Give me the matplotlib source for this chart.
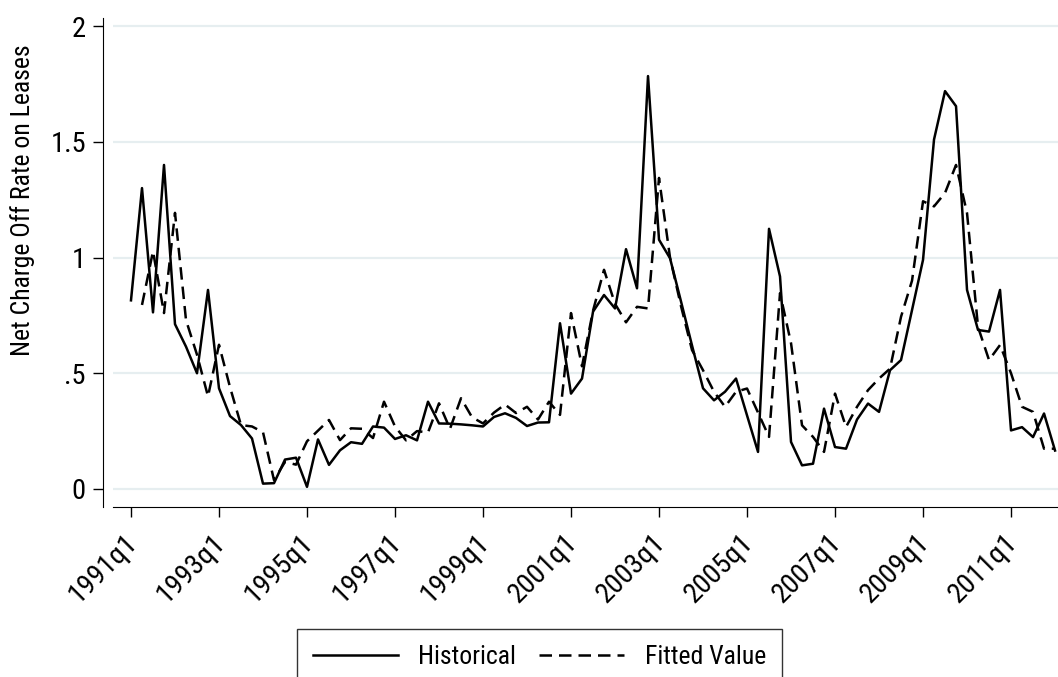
import numpy as np
import matplotlib
matplotlib.use("Agg")
import matplotlib.pyplot as plt
import matplotlib.transforms as mtransforms

# Stata draws in Arial Narrow; Roboto Condensed is the closest installed face
plt.rcParams['font.family'] = ['Roboto Condensed', 'Liberation Sans', 'DejaVu Sans']

# quarterly, 1991q1 .. 2012q1
quarters = np.arange(85)
tick_pos = np.arange(0, 81, 8)
tick_labels = ['1991q1', '1993q1', '1995q1', '1997q1', '1999q1', '2001q1',
               '2003q1', '2005q1', '2007q1', '2009q1', '2011q1']

historical = [0.815, 1.30, 0.763, 1.40, 0.712, 0.615, 0.50, 0.86, 0.435, 0.315,
              0.276, 0.218, 0.023, 0.025, 0.127, 0.135, 0.009, 0.214, 0.104, 0.167,
              0.202, 0.195, 0.27, 0.265, 0.216, 0.232, 0.21, 0.377, 0.283, 0.282,
              0.279, 0.275, 0.27, 0.311, 0.327, 0.307, 0.272, 0.287, 0.288, 0.716,
              0.412, 0.477, 0.766, 0.838, 0.78, 1.036, 0.867, 1.784, 1.077, 0.997,
              0.81, 0.62, 0.435, 0.383, 0.42, 0.477, 0.318, 0.16, 1.124, 0.918,
              0.203, 0.102, 0.109, 0.347, 0.181, 0.174, 0.30, 0.369, 0.333, 0.513,
              0.557, 0.773, 0.99, 1.51, 1.719, 1.654, 0.86, 0.687, 0.68, 0.86,
              0.253, 0.267, 0.224, 0.326, 0.166]

fitted = [np.nan, 0.795, 1.027, 0.76, 1.193, 0.73, 0.58, 0.40, 0.623, 0.44,
          0.276, 0.27, 0.245, 0.038, 0.117, 0.105, 0.206, 0.252, 0.298, 0.211,
          0.262, 0.26, 0.22, 0.377, 0.27, 0.21, 0.25, 0.244, 0.37, 0.26,
          0.392, 0.31, 0.283, 0.33, 0.365, 0.328, 0.355, 0.30, 0.377, 0.32,
          0.76, 0.53, 0.77, 0.947, 0.80, 0.72, 0.787, 0.78, 1.344, 1.0,
          0.79, 0.60, 0.513, 0.42, 0.355, 0.42, 0.434, 0.33, 0.225, 0.846,
          0.63, 0.275, 0.225, 0.16, 0.412, 0.268, 0.355, 0.427, 0.477, 0.52,
          0.744, 0.90, 1.243, 1.221, 1.279, 1.40, 1.192, 0.70, 0.557, 0.622,
          0.50, 0.355, 0.333, 0.174, 0.174]

W, H = 1058, 677
fig = plt.figure(figsize=(W / 100, H / 100), dpi=100)
ax = fig.add_axes([113 / W, (H - 507) / H, (W - 113) / W, (507 - 18) / H])

ax.plot(quarters, historical, color='black', lw=1.8, label='Historical')
ax.plot(quarters, fitted, color='black', lw=1.8, dashes=(5, 2.8), label='Fitted Value')

ax.set_xlim(-1.636, 84.27)
ax.set_ylim(-0.078, 2.035)

ax.set_yticks([0, 0.5, 1, 1.5, 2])
ax.set_yticklabels(['0', '.5', '1', '1.5', '2'])
ax.set_xticks(tick_pos)
ax.set_xticklabels(tick_labels, rotation=45, ha='right', va='top', rotation_mode='anchor')

ax.tick_params(axis='both', labelsize=20.5, length=7.5, width=1, color='black')
ax.tick_params(axis='y', pad=5)
ax.tick_params(axis='x', pad=3)

# nudge the slanted labels a little left and down, like the original
shift = mtransforms.ScaledTranslation(-7 / 100, -7 / 100, fig.dpi_scale_trans)
for lab in ax.get_xticklabels():
    lab.set_transform(lab.get_transform() + shift)

ax.grid(axis='y', color='#e6eef0', lw=1.6)
ax.set_axisbelow(True)
for s in ['top', 'right']:
    ax.spines[s].set_visible(False)
ax.spines['left'].set_position(('outward', 7))

fig.text(23 / W, 1 - 200 / H, 'Net Charge Off Rate on Leases', rotation=90,
         fontsize=18.5, ha='center', va='center')

# legend box runs off the bottom edge in the original
fig.legend(loc='upper left', bbox_to_anchor=(297 / W, 1 - 629 / H), ncol=2,
           fontsize=18.5, frameon=True, fancybox=False, edgecolor='black',
           handlelength=3.3, handletextpad=0.8, columnspacing=0.9,
           borderpad=0.62, borderaxespad=0)

fig.savefig('out.png', dpi=100)
